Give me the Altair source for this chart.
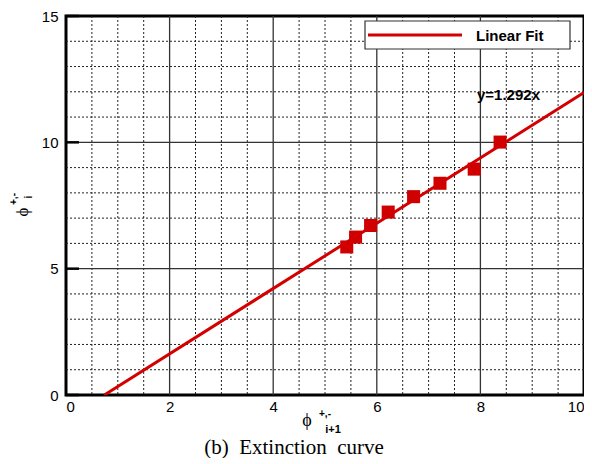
import altair as alt
import pandas as pd

# data
pts_x = [5.42, 5.59, 5.88, 6.22, 6.71, 7.22, 7.88, 8.38]
pts_y = [5.86, 6.25, 6.71, 7.24, 7.85, 8.38, 8.94, 10.01]
fit_x = [0.74, 10.0]
fit_y = [0.0, 11.97]

x_major = [2, 4, 6, 8]
x_minor = [i * 0.5 for i in range(1, 20) if (i * 0.5) % 2 != 0]
y_major = [5, 10]
y_minor = [v for v in range(1, 15) if v % 5 != 0]
y_ticks = [0, 5, 10, 15]

W, H = 518, 379
TOP = 8
RED = "#d40000"

xs = alt.Scale(domain=[0, 10], nice=False, zero=False)
ys = alt.Scale(domain=[0, 15], nice=False, zero=False)

base_axes = alt.Chart(pd.DataFrame({"x": [0], "y": [0]})).mark_point(opacity=0).encode(
    x=alt.X("x:Q", scale=xs, axis=alt.Axis(values=[0, 2, 4, 6, 8, 10], grid=False, domain=False,
                                           ticks=False, title=None, labelFont="Liberation Sans",
                                           labelFontSize=15, labelColor="black", labelPadding=4)),
    y=alt.Y("y:Q", scale=ys, axis=alt.Axis(values=y_ticks, grid=False, domain=False,
                                           ticks=False, title=None, labelFont="Liberation Sans",
                                           labelFontSize=15, labelColor="black", labelPadding=8)),
)

gx_minor = alt.Chart(pd.DataFrame({"x": x_minor})).mark_rule(
    color="#222", strokeWidth=1, strokeDash=[2, 2]).encode(x=alt.X("x:Q", scale=xs))
gy_minor = alt.Chart(pd.DataFrame({"y": y_minor})).mark_rule(
    color="#222", strokeWidth=1, strokeDash=[2, 2]).encode(y=alt.Y("y:Q", scale=ys))
gx_major = alt.Chart(pd.DataFrame({"x": x_major})).mark_rule(
    color="#333", strokeWidth=1.3).encode(x=alt.X("x:Q", scale=xs))
gy_major = alt.Chart(pd.DataFrame({"y": y_major})).mark_rule(
    color="#333", strokeWidth=1.3).encode(y=alt.Y("y:Q", scale=ys))

ticks_df = pd.DataFrame({"y": y_ticks, "x0": [0] * 4, "x1": [0.25] * 4})
yticks = alt.Chart(ticks_df).mark_rule(color="black", strokeWidth=2.5).encode(
    x=alt.X("x0:Q", scale=xs), x2="x1:Q", y=alt.Y("y:Q", scale=ys))

fit = alt.Chart(pd.DataFrame({"x": fit_x, "y": fit_y})).mark_line(
    color=RED, strokeWidth=3, clip=True).encode(
    x=alt.X("x:Q", scale=xs), y=alt.Y("y:Q", scale=ys))

pts = alt.Chart(pd.DataFrame({"x": pts_x, "y": pts_y})).mark_square(
    color="#d00000", opacity=1, size=170).encode(
    x=alt.X("x:Q", scale=xs), y=alt.Y("y:Q", scale=ys))

one = pd.DataFrame({"a": [0]})
dy = 5 - TOP  # keep annotations at the same page positions

leg_box = alt.Chart(one).mark_rect(fill="white", stroke="#333", strokeWidth=1.2).encode(
    x=alt.value(299), x2=alt.value(504), y=alt.value(8 + dy), y2=alt.value(36 + dy))
leg_line = alt.Chart(one).mark_rule(color=RED, strokeWidth=3).encode(
    x=alt.value(302), x2=alt.value(396), y=alt.value(22 + dy))
leg_text = alt.Chart(one).mark_text(text="Linear Fit", font="Liberation Sans", fontWeight="bold",
                                    fontSize=15, align="left", baseline="middle", color="black").encode(
    x=alt.value(410), y=alt.value(23 + dy))
eq_text = alt.Chart(one).mark_text(text="y=1.292x", font="Liberation Sans", fontWeight="bold",
                                   fontSize=15, align="left", baseline="middle", color="black").encode(
    x=alt.value(411), y=alt.value(82 + dy))

def txt(s, x, y, size, weight="normal", font="Liberation Sans", angle=0, align="center"):
    kw = dict(text=s, font=font, fontSize=size, fontWeight=weight, color="black",
              align=align, baseline="middle")
    if angle:
        kw["angle"] = angle
    return alt.Chart(one).mark_text(**kw).encode(x=alt.value(x), y=alt.value(y + dy))

NB = "\u00a0"
titles = [
    txt("ϕ", -43, 199, 17, font="Liberation Serif", angle=270),
    txt("+,-", -52, 186, 10, weight="bold", angle=270),
    txt("i", -37, 184, 10, weight="bold", angle=270),
    txt("ϕ", 241, 408, 18, font="Liberation Serif"),
    txt("+,-", 259, 401, 10, weight="bold"),
    txt("i+1", 267, 417, 11, weight="bold"),
    txt("(b)" + NB + NB + "Extinction" + NB + NB + "curve", 228, 435, 21, font="Liberation Serif"),
]

chart = alt.layer(
    base_axes, gx_minor, gy_minor, gx_major, gy_major, yticks, fit, pts,
    leg_box, leg_line, leg_text, eq_text, *titles
).properties(
    width=W, height=H,
    autosize=alt.AutoSizeParams(type="none"),
    padding={"left": 58, "top": TOP, "right": 0, "bottom": 63},
).configure_view(stroke="black", strokeWidth=3)

chart.save("out.html", embed_options={"renderer": "svg", "actions": False})
